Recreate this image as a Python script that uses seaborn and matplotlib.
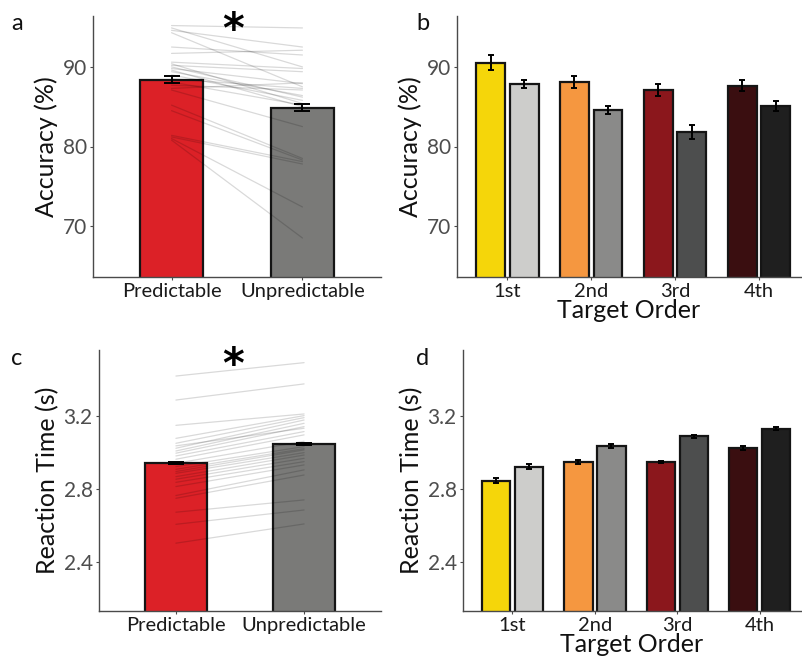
import numpy as np
import pandas as pd
import matplotlib
matplotlib.use("Agg")
import matplotlib.pyplot as plt
import seaborn as sns

# ---- data ----
conditions = ["Predictable", "Unpredictable"]
orders = ["1st", "2nd", "3rd", "4th"]

acc_mean = [88.4, 84.9]
acc_se = [0.4, 0.4]
rt_mean = [2.94, 3.045]
rt_se = [0.006, 0.006]

# per-subject accuracy (Predictable -> Unpredictable)
acc_pred = [95.2, 94.9, 94.6, 94.3, 92.5, 91.7, 90.6, 90.4, 90.2, 90.0, 89.8, 89.6, 89.4,
            89.0, 88.5, 88.1, 87.7, 87.3, 87.1, 85.2, 84.5, 81.4, 81.2, 81.0, 80.8]
acc_unpred = [94.9, 90.0, 92.5, 87.5, 91.5, 92.1, 89.8, 85.4, 89.4, 86.2, 87.9, 85.0, 86.4,
              85.8, 87.3, 85.2, 87.1, 88.0, 82.5, 78.5, 78.3, 78.1, 77.8, 72.4, 68.5]

# per-subject reaction time
rt_pred = [3.416, 3.285, 3.147, 3.076, 3.049, 3.035, 3.022, 3.007, 2.995, 2.980, 2.962, 2.940, 2.922,
           2.907, 2.895, 2.885, 2.867, 2.853, 2.836, 2.813, 2.764, 2.749, 2.673, 2.607, 2.504]
rt_unpred = [3.489, 3.373, 3.209, 3.200, 3.189, 3.131, 3.176, 3.158, 3.140, 3.113, 3.095, 3.060, 3.031,
             3.020, 3.013, 2.998, 2.985, 2.967, 2.949, 2.931, 2.904, 2.876, 2.740, 2.685, 2.609]

# by target order
acc_order_pred = [90.55, 88.1, 87.1, 87.65]
acc_order_unpred = [87.9, 84.6, 81.8, 85.05]
acc_order_pred_se = [0.9, 0.75, 0.7, 0.65]
acc_order_unpred_se = [0.5, 0.55, 0.9, 0.65]

rt_order_pred = [2.845, 2.947, 2.947, 3.024]
rt_order_unpred = [2.922, 3.036, 3.087, 3.129]
rt_order_pred_se = [0.012, 0.01, 0.008, 0.012]
rt_order_unpred_se = [0.012, 0.01, 0.008, 0.008]

main_colors = ["#DC2127", "#7A7A78"]
pred_colors = ["#F5D60A", "#F59740", "#8B171C", "#3A0E10"]
unpred_colors = ["#CDCDCB", "#8A8A89", "#4D4E4E", "#1F1F1F"]

sns.set_theme(style="ticks")
plt.rcParams["font.family"] = ["Lato", "DejaVu Sans"]

fig = plt.figure(figsize=(8.03, 6.6), dpi=100)
W, H = 803, 660


def add_ax(left, top, right, bottom):
    return fig.add_axes([left / W, 1 - bottom / H, (right - left) / W, (bottom - top) / H])


ax_a = add_ax(93, 16, 381, 277)
ax_b = add_ax(457, 16, 801, 277)
ax_c = add_ax(99, 350, 381, 611)
ax_d = add_ax(463, 350, 801, 611)


def style(ax, ylim, yticks, fmt):
    ax.set_ylim(*ylim)
    ax.set_yticks(yticks)
    ax.set_yticklabels([fmt.format(v) for v in yticks])
    for s in ["top", "right"]:
        ax.spines[s].set_visible(False)
    for s in ["left", "bottom"]:
        ax.spines[s].set_color("#4a4a4a")
        ax.spines[s].set_linewidth(1.0)
    ax.tick_params(axis="both", length=2.5, width=0.8, color="#4a4a4a", pad=2)
    ax.tick_params(axis="y", labelsize=15, labelcolor="#4D4D4D")
    ax.tick_params(axis="x", labelsize=14.5, labelcolor="#1a1a1a")


def paired_panel(ax, means, ses, pred, unpred, ylim, yticks, fmt, ylabel):
    df = pd.DataFrame({"cond": conditions, "val": means})
    sns.barplot(data=df, x="cond", y="val", hue="cond", palette=main_colors, order=conditions,
                saturation=1, width=0.48, edgecolor="#151515", linewidth=1.6, errorbar=None,
                legend=False, ax=ax, zorder=2)
    subj = pd.DataFrame({
        "subj": np.concatenate([np.arange(len(pred)), np.arange(len(unpred))]),
        "pos": [0] * len(pred) + [1] * len(unpred),
        "val": list(pred) + list(unpred),
    })
    sns.lineplot(data=subj, x="pos", y="val", units="subj", estimator=None, color="black",
                 alpha=0.15, linewidth=0.9, ax=ax, zorder=3, legend=False)
    xs = [p.get_x() + p.get_width() / 2 for p in ax.patches]
    ax.errorbar(xs, means, yerr=ses, fmt="none", ecolor="black", elinewidth=1.4,
                capsize=6, capthick=1.4, zorder=4)
    ax.set_xlim(-0.6, 1.6)
    style(ax, ylim, yticks, fmt)
    ax.set_xlabel("")
    ax.set_ylabel(ylabel, fontsize=18, color="#111111", labelpad=3)


def order_panel(ax, pm, um, pse, use, ylim, yticks, fmt, ylabel):
    df = pd.DataFrame({
        "order": orders * 2,
        "cond": [conditions[0]] * 4 + [conditions[1]] * 4,
        "val": list(pm) + list(um),
    })
    sns.barplot(data=df, x="order", y="val", hue="cond", hue_order=conditions, order=orders,
                palette=main_colors, saturation=1, width=0.8, gap=0.14, edgecolor="#151515",
                linewidth=1.6, errorbar=None, legend=False, ax=ax, zorder=2)
    cols = pred_colors + unpred_colors
    for p, c in zip(ax.patches, cols):
        p.set_facecolor(c)
    xs = [p.get_x() + p.get_width() / 2 for p in ax.patches]
    ax.errorbar(xs, list(pm) + list(um), yerr=list(pse) + list(use), fmt="none", ecolor="black",
                elinewidth=1.4, capsize=2.5, capthick=1.4, zorder=4)
    ax.set_xlim(-0.6, 3.5)
    style(ax, ylim, yticks, fmt)
    ax.set_xlabel("Target Order", fontsize=18, color="#111111", labelpad=-1)
    ax.set_ylabel(ylabel, fontsize=18, color="#111111", labelpad=3)


acc_lim = (63.6, 96.4)
rt_lim = (2.134, 3.558)
paired_panel(ax_a, acc_mean, acc_se, acc_pred, acc_unpred, acc_lim, [70, 80, 90], "{:.0f}",
             "Accuracy (%)")
paired_panel(ax_c, rt_mean, rt_se, rt_pred, rt_unpred, rt_lim, [2.4, 2.8, 3.2], "{:.1f}",
             "Reaction Time (s)")
order_panel(ax_b, acc_order_pred, acc_order_unpred, acc_order_pred_se, acc_order_unpred_se,
            acc_lim, [70, 80, 90], "{:.0f}", "Accuracy (%)")
order_panel(ax_d, rt_order_pred, rt_order_unpred, rt_order_pred_se, rt_order_unpred_se,
            rt_lim, [2.4, 2.8, 3.2], "{:.1f}", "Reaction Time (s)")

# panel letters
for lab, x, y in [("a", 17, 24), ("b", 423, 24), ("c", 17, 358), ("d", 423, 358)]:
    fig.text(x / W, 1 - y / H, lab, fontsize=17, ha="center", va="center", color="#111111")

# significance stars
for y in [31, 366]:
    fig.text(233 / W, 1 - y / H, "*", fontsize=30, fontweight="bold", ha="center",
             va="center", color="black", family="DejaVu Sans")

fig.savefig("out.png", dpi=100)
